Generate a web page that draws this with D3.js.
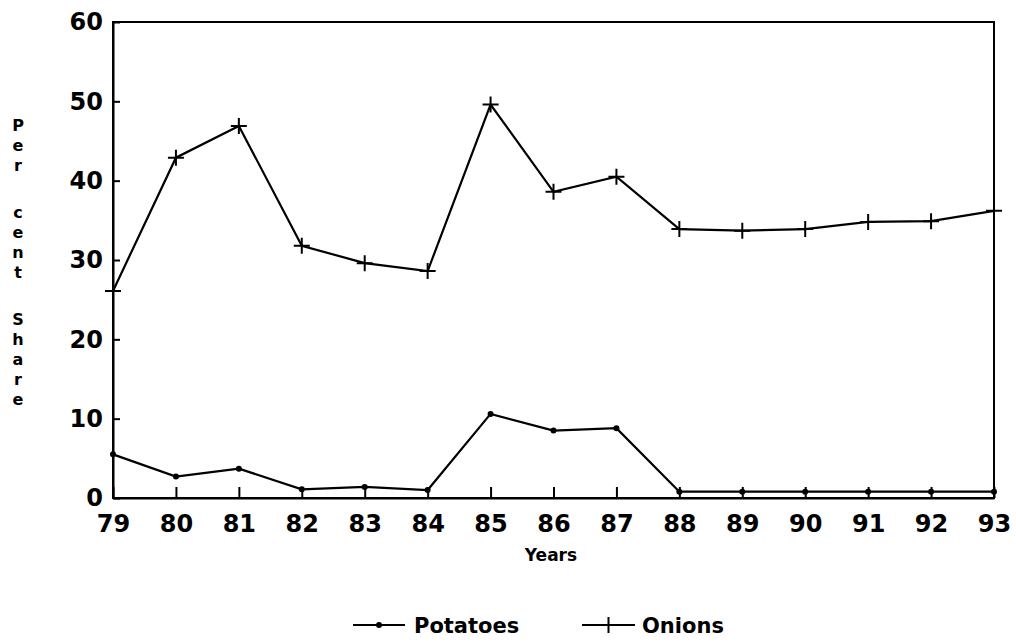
<!DOCTYPE html>
<html>
<head>
<meta charset="utf-8">
<script src="https://cdn.jsdelivr.net/npm/d3@7"></script>
<style>
  body { margin: 0; background: #fff; }
  text { font-family: "DejaVu Sans", sans-serif; font-weight: bold; fill: #000; }
</style>
</head>
<body>
<div id="chart"></div>
<script>
// Chart data
const years = ['79', '80', '81', '82', '83', '84', '85', '86', '87', '88', '89', '90', '91', '92', '93'];
const potatoes = [5.5, 2.7, 3.7, 1.1, 1.4, 1.0, 10.6, 8.5, 8.8, 0.8, 0.8, 0.8, 0.8, 0.8, 0.8];
const onions = [26.1, 42.9, 46.9, 31.8, 29.6, 28.6, 49.6, 38.6, 40.5, 33.9, 33.7, 33.9, 34.8, 34.9, 36.2];
const yTicks = [0, 10, 20, 30, 40, 50, 60];
const yTitle = 'Per cent Share';

const W = 1016, H = 644;
const margin = { top: 22, right: 22, bottom: 146, left: 113 };
const width = W - margin.left - margin.right;
const height = H - margin.top - margin.bottom;

const svg = d3.select('#chart').append('svg')
  .attr('width', W)
  .attr('height', H);

const g = svg.append('g')
  .attr('transform', `translate(${margin.left},${margin.top})`);

const x = d3.scalePoint().domain(years).range([0, width]);
const y = d3.scaleLinear().domain([0, 60]).range([height, 0]);

// frame
g.append('rect')
  .attr('width', width)
  .attr('height', height)
  .attr('fill', 'none')
  .attr('stroke', '#000')
  .attr('stroke-width', 2);

// axes, ticks pointing inward
const yAxis = g.append('g')
  .call(d3.axisLeft(y).tickValues(yTicks).tickSizeInner(-7).tickSizeOuter(0).tickPadding(10));
const xAxis = g.append('g')
  .attr('transform', `translate(0,${height})`)
  .call(d3.axisBottom(x).tickSizeInner(-11).tickSizeOuter(0).tickPadding(17));

[xAxis, yAxis].forEach(a => {
  a.select('.domain').attr('stroke-width', 2);
  a.selectAll('.tick line').attr('stroke-width', 2);
  a.selectAll('.tick text')
    .attr('font-family', '"DejaVu Sans", sans-serif')
    .attr('font-weight', 'bold')
    .attr('font-size', 24);
});

// lines
const line = d3.line().x((d, i) => x(years[i])).y(d => y(d));

g.append('path').datum(potatoes)
  .attr('d', line).attr('fill', 'none')
  .attr('stroke', '#000').attr('stroke-width', 2.2);
g.append('path').datum(onions)
  .attr('d', line).attr('fill', 'none')
  .attr('stroke', '#000').attr('stroke-width', 2.2);

// markers
g.selectAll('.pdot').data(potatoes).enter().append('circle')
  .attr('cx', (d, i) => x(years[i]))
  .attr('cy', d => y(d))
  .attr('r', 3)
  .attr('fill', '#000');

const plus = 'M-8,0H8M0,-8V8';
g.selectAll('.oplus').data(onions).enter().append('path')
  .attr('transform', (d, i) => `translate(${x(years[i])},${y(d)})`)
  .attr('d', plus)
  .attr('stroke', '#000')
  .attr('stroke-width', 2);

// axis titles
svg.append('text')
  .attr('x', 551)
  .attr('y', 561)
  .attr('text-anchor', 'middle')
  .attr('font-size', 17)
  .text('Years');

const yt = svg.append('text').attr('font-size', 16).attr('text-anchor', 'middle');
let ty = 125;
yTitle.split('').forEach(ch => {
  if (ch === ' ') { ty += 27; return; }
  yt.append('tspan').attr('x', 18).attr('y', ty + 6).text(ch);
  ty += 20;
});

// legend
const legend = svg.append('g').attr('transform', 'translate(0,625)');
const items = [
  { name: 'Potatoes', x0: 353, x1: 405, tx: 414, mark: 'dot' },
  { name: 'Onions', x0: 582, x1: 635, tx: 642, mark: 'plus' }
];
items.forEach(it => {
  legend.append('line')
    .attr('x1', it.x0).attr('x2', it.x1)
    .attr('stroke', '#000').attr('stroke-width', 2);
  const mx = (it.x0 + it.x1) / 2;
  if (it.mark === 'dot') {
    legend.append('circle').attr('cx', mx).attr('r', 3).attr('fill', '#000');
  } else {
    legend.append('path').attr('transform', `translate(${mx},0)`)
      .attr('d', plus).attr('stroke', '#000').attr('stroke-width', 2);
  }
  legend.append('text')
    .attr('x', it.tx)
    .attr('y', 8)
    .attr('font-size', 21)
    .text(it.name);
});
</script>
</body>
</html>
